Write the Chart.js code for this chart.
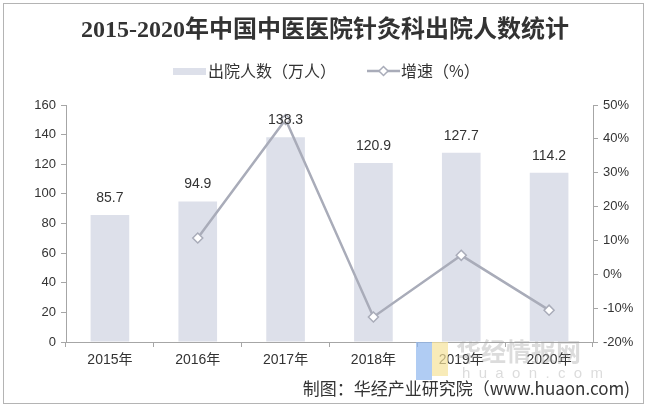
<!DOCTYPE html>
<html>
<head>
<meta charset="utf-8">
<script src="https://cdn.jsdelivr.net/npm/chart.js@4"></script>
<style>
  html, body { margin: 0; padding: 0; background: #fff; }
  #wrap { position: relative; width: 650px; height: 408px; }
  #frame { position: absolute; left: 3px; top: 3px; width: 639px; height: 399px; border: 1px solid #b4b4b4; pointer-events: none; }
</style>
</head>
<body>
<div id="wrap">
  <canvas id="chart" width="650" height="408"></canvas>
  <div id="frame"></div>
</div>
<script>
// data
var years = ['2015年', '2016年', '2017年', '2018年', '2019年', '2020年'];
var patients = [85.7, 94.9, 138.3, 120.9, 127.7, 114.2];   // 出院人数（万人）
var growth = [null, 10.7, 45.7, -12.6, 5.6, -10.6];        // 增速（%）
var titleText = '2015-2020年中国中医医院针灸科出院人数统计';
var sourceText = '制图：华经产业研究院（www.huaon.com)';

var barColor = '#dde0ea';
var lineColor = '#a9acb9';
var tickFont = { family: '"Liberation Sans", "Noto Sans CJK SC", sans-serif', size: 13 };

// title, legend, bar labels, source, watermark
var decor = {
    id: 'decor',
    beforeDatasetsDraw: function (chart) {
        var c = chart.ctx;
        c.save();
        // watermark
        c.globalAlpha = 0.7;
        c.fillStyle = '#8fb6ee';
        c.fillRect(416, 342, 16, 38);
        c.fillStyle = '#f5e39a';
        c.fillRect(432, 342, 16, 34);
        c.globalAlpha = 0.35;
        c.fillStyle = '#9a9a9a';
        c.font = 'bold 25px "Noto Sans CJK SC", sans-serif';
        c.textBaseline = 'middle';
        c.textAlign = 'left';
        c.fillText('华经情报网', 456, 351);
        c.font = '15px "Liberation Sans", sans-serif';
        c.fillText('h  u  a  o  n  .  c  o  m', 462, 374);
        c.restore();
    },
    afterDatasetsDraw: function (chart) {
        var c = chart.ctx;
        c.save();
        // title
        c.fillStyle = '#333';
        c.textAlign = 'center';
        c.textBaseline = 'middle';
        c.font = 'bold 24px "Liberation Serif", "Noto Sans CJK SC", serif';
        c.fillText(titleText, 325, 31);

        // legend
        var ly = 71;
        c.font = '16px "Noto Sans CJK SC", sans-serif';
        c.textAlign = 'left';
        c.fillStyle = barColor;
        c.fillRect(173, ly - 3, 33, 7);
        c.fillStyle = '#333';
        c.fillText(chart.data.datasets[1].label, 208, ly);
        c.strokeStyle = lineColor;
        c.lineWidth = 2.5;
        c.beginPath();
        c.moveTo(367, ly);
        c.lineTo(400, ly);
        c.stroke();
        c.fillStyle = '#fff';
        c.lineWidth = 1.5;
        c.beginPath();
        c.moveTo(383.5, ly - 4.5);
        c.lineTo(388, ly);
        c.lineTo(383.5, ly + 4.5);
        c.lineTo(379, ly);
        c.closePath();
        c.fill();
        c.stroke();
        c.fillStyle = '#333';
        c.fillText(chart.data.datasets[0].label, 401, ly);

        // bar value labels
        var meta = chart.getDatasetMeta(1);
        c.font = '14px "Liberation Sans", sans-serif';
        c.textAlign = 'center';
        c.fillStyle = '#333';
        meta.data.forEach(function (bar, i) {
            c.fillText(patients[i].toFixed(1), bar.x, bar.y - 17);
        });

        // source
        c.font = '17px "Noto Sans CJK SC", "Liberation Sans", sans-serif';
        c.textAlign = 'right';
        c.fillStyle = '#333';
        c.fillText(sourceText, 630, 389);
        c.restore();
    }
};

var ctx = document.getElementById('chart').getContext('2d');
new Chart(ctx, {
    type: 'bar',
    data: {
        labels: years,
        datasets: [{
            type: 'line',
            label: '增速（%）',
            data: growth,
            yAxisID: 'y1',
            borderColor: lineColor,
            borderWidth: 2.5,
            pointStyle: 'rectRot',
            pointRadius: 5,
            pointBackgroundColor: '#fff',
            pointBorderColor: lineColor,
            pointBorderWidth: 1.5,
            tension: 0,
            order: 0
        }, {
            label: '出院人数（万人）',
            data: patients,
            yAxisID: 'y',
            backgroundColor: barColor,
            barPercentage: 0.44,
            categoryPercentage: 1,
            order: 1
        }]
    },
    options: {
        responsive: false,
        animation: false,
        layout: { padding: { top: 105, left: 0, right: 0, bottom: 0 } },
        plugins: {
            legend: { display: false },
            title: { display: false },
            tooltip: { enabled: false }
        },
        scales: {
            x: {
                grid: { display: true, drawOnChartArea: false, tickLength: 5, color: '#a6a6a6', offset: true },
                border: { color: '#a6a6a6', width: 1 },
                ticks: { color: '#333', font: { family: tickFont.family, size: 14 }, padding: 5 },
                afterFit: function (s) { s.height = 66; }
            },
            y: {
                position: 'left',
                min: 0, max: 160,
                grid: { display: true, drawOnChartArea: false, tickLength: 5, color: '#a6a6a6' },
                border: { color: '#a6a6a6', width: 1 },
                ticks: { stepSize: 20, color: '#333', font: tickFont, padding: 5 },
                afterFit: function (s) { s.width = 66; }
            },
            y1: {
                position: 'right',
                min: -20, max: 50,
                grid: { display: true, drawOnChartArea: false, tickLength: 5, color: '#a6a6a6' },
                border: { color: '#a6a6a6', width: 1 },
                ticks: {
                    stepSize: 10, color: '#333', font: tickFont, padding: 5,
                    callback: function (v) { return v + '%'; }
                },
                afterFit: function (s) { s.width = 57; }
            }
        }
    },
    plugins: [decor]
});
</script>
</body>
</html>
